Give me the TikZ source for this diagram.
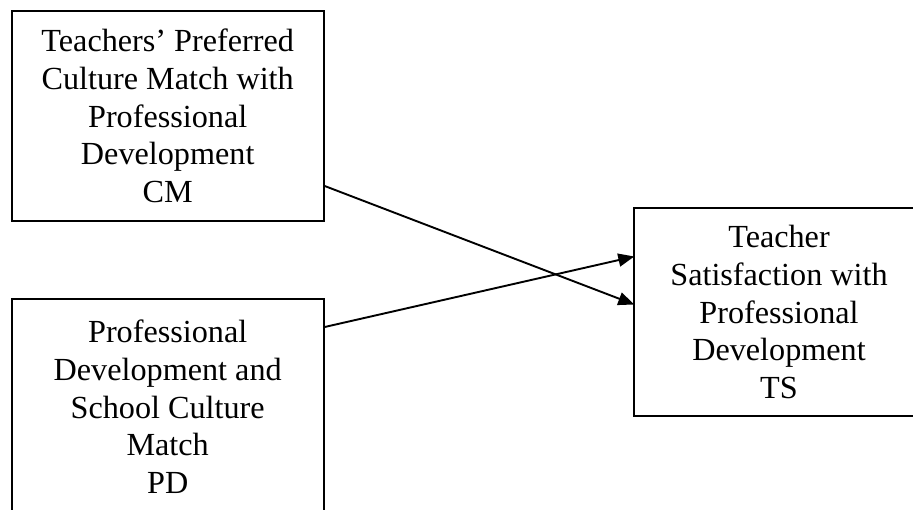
\documentclass[tikz,border=0pt]{standalone}
\usepackage{fontspec}
\setmainfont{Liberation Serif}
\usetikzlibrary{arrows.meta}
\begin{document}
\begin{tikzpicture}[x=1pt,y=-1pt,
  boxtext/.style={anchor=north west,align=center,inner sep=0pt,
    font=\fontsize{32.2}{37.8}\selectfont},
  box/.style={boxtext,draw,line width=2pt},
  frame/.style={line width=2pt},
  link/.style={line width=1.9pt,-{Triangle[length=16pt,width=13pt]}}]
\useasboundingbox (0,0) rectangle (913,510);
\clip (0,0) rectangle (913,510);
\node[box,minimum width=312pt,minimum height=210pt] (cm) at (10.7,10)
  {Teachers’ Preferred\\Culture Match with\\Professional\\Development\\CM};
\node[box,minimum width=312pt,minimum height=216pt] (pd) at (10.7,297.7)
  {Professional\\Development and\\School Culture\\Match\\PD};
\node[boxtext,minimum width=289pt,minimum height=207pt] (ts) at (634.3,208.3)
  {Teacher\\Satisfaction with\\Professional\\Development\\TS};
\draw[frame] ([xshift=60pt]ts.north east) -- (ts.north west) -- (ts.south west) -- ([xshift=60pt]ts.south east);
\draw[link] ([yshift=-70pt]cm.east) -- ([yshift=7.5pt]ts.west);
\draw[link] ([yshift=79.7pt]pd.east) -- ([yshift=55.5pt]ts.west);
\end{tikzpicture}
\end{document}
